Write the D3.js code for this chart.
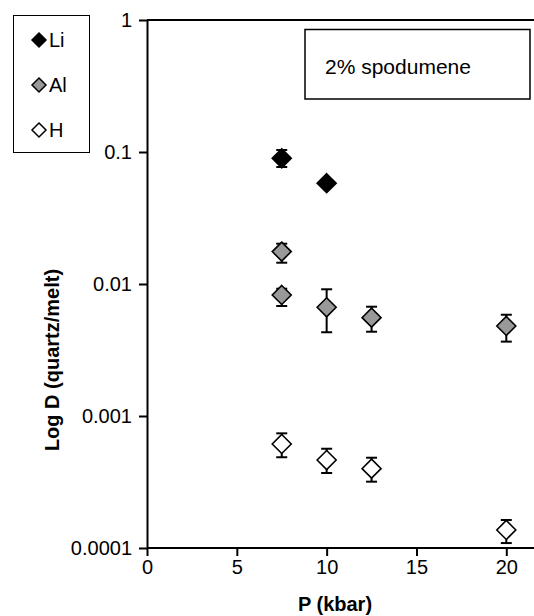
<!DOCTYPE html>
<html>
<head>
<meta charset="utf-8">
<script src="https://cdn.jsdelivr.net/npm/d3@7"></script>
<style>
  html, body { margin: 0; padding: 0; background: #fff; }
  svg { display: block; font-family: Arial, "Liberation Sans", Helvetica, sans-serif; }
</style>
</head>
<body>
<svg id="chart" width="534" height="616"></svg>
<script>
// Pressure (kbar) and partition coefficients D (quartz/melt) with error ranges
const liP    = [7.5, 10];
const liD    = [0.0895, 0.058];
const liLo   = [0.0770, null];
const liHi   = [0.1036, null];

const alP    = [7.5, 7.5, 10, 12.5, 20];
const alD    = [0.0176, 0.00826, 0.00666, 0.00556, 0.00481];
const alLo   = [0.0145, 0.00681, 0.00431, 0.00435, 0.00366];
const alHi   = [0.0202, 0.00921, 0.00912, 0.00673, 0.00585];

const hP     = [7.5, 10, 12.5, 20];
const hD     = [0.000614, 0.000464, 0.000399, 0.000137];
const hLo    = [0.000487, 0.000370, 0.000318, 0.000109];
const hHi    = [0.000739, 0.000565, 0.000483, 0.000163];

const xTicks = [0, 5, 10, 15, 20];
const yTicks = [0.0001, 0.001, 0.01, 0.1, 1];
const yTickLabels = ["0.0001", "0.001", "0.01", "0.1", "1"];

const seriesNames  = ["Li", "Al", "H"];
const seriesFills  = ["#000000", "#999999", "#ffffff"];

const series = [
  { name: seriesNames[0], fill: seriesFills[0], p: liP, d: liD, lo: liLo, hi: liHi },
  { name: seriesNames[1], fill: seriesFills[1], p: alP, d: alD, lo: alLo, hi: alHi },
  { name: seriesNames[2], fill: seriesFills[2], p: hP,  d: hD,  lo: hLo,  hi: hHi }
];

const svg = d3.select("#chart");
const plotLeft = 147, plotTop = 20, plotBottom = 548;

const x = d3.scaleLinear().domain([0, 22]).range([plotLeft, plotLeft + 22 * 17.965]);
const y = d3.scaleLog().domain([0.0001, 1]).range([plotBottom, plotTop]);

// Plot-area frame (top edge runs off the right side)
svg.append("line")
  .attr("x1", plotLeft).attr("x2", 534)
  .attr("y1", plotTop).attr("y2", plotTop)
  .attr("stroke", "#000").attr("stroke-width", 2);

// X axis
const xAxis = svg.append("g")
  .attr("transform", `translate(0,${plotBottom})`)
  .call(d3.axisBottom(x).tickValues(xTicks).tickSize(8).tickPadding(4).tickSizeOuter(0));
xAxis.select(".domain").attr("stroke-width", 2).attr("d", `M${plotLeft},0H534`);
xAxis.selectAll(".tick line").attr("stroke-width", 2);
xAxis.selectAll(".tick text").attr("font-size", 20).attr("fill", "#000")
  .attr("font-family", "Arial, 'Liberation Sans', sans-serif");

// Y axis
const yAxis = svg.append("g")
  .attr("transform", `translate(${plotLeft},0)`)
  .call(d3.axisLeft(y).tickValues(yTicks).tickFormat((d, i) => yTickLabels[i])
    .tickSize(8).tickPadding(7).tickSizeOuter(0));
yAxis.select(".domain").attr("stroke-width", 2);
yAxis.selectAll(".tick line").attr("stroke-width", 2);
yAxis.selectAll(".tick text").attr("font-size", 20).attr("fill", "#000")
  .attr("font-family", "Arial, 'Liberation Sans', sans-serif");

// Axis titles
svg.append("text")
  .attr("x", 335).attr("y", 611)
  .attr("text-anchor", "middle")
  .attr("font-size", 20).attr("font-weight", "bold")
  .text("P (kbar)");

svg.append("text")
  .attr("transform", "translate(58.5,360) rotate(-90)")
  .attr("text-anchor", "middle")
  .attr("font-size", 20).attr("font-weight", "bold")
  .text("Log D (quartz/melt)");

// Diamond marker path of half-diagonal r
const diamond = r => `M0,${-r}L${r},0L0,${r}L${-r},0Z`;

// Error bars and markers
const capW = 5.5;
series.forEach(s => {
  const g = svg.append("g");
  s.p.forEach((p, i) => {
    if (s.lo[i] != null) {
      const cx = x(p);
      const eg = g.append("g").attr("stroke", "#000").attr("stroke-width", 2);
      eg.append("line").attr("x1", cx).attr("x2", cx).attr("y1", y(s.hi[i])).attr("y2", y(s.lo[i]));
      eg.append("line").attr("x1", cx - capW).attr("x2", cx + capW).attr("y1", y(s.hi[i])).attr("y2", y(s.hi[i]));
      eg.append("line").attr("x1", cx - capW).attr("x2", cx + capW).attr("y1", y(s.lo[i])).attr("y2", y(s.lo[i]));
    }
  });
  s.p.forEach((p, i) => {
    g.append("path")
      .attr("d", diamond(9.5))
      .attr("transform", `translate(${x(p)},${y(s.d[i])})`)
      .attr("fill", s.fill)
      .attr("stroke", "#000").attr("stroke-width", 1.6);
  });
});

// Legend box
const lg = svg.append("g");
lg.append("rect")
  .attr("x", 13.5).attr("y", 15.5).attr("width", 76).attr("height", 137)
  .attr("fill", "#fff").attr("stroke", "#000").attr("stroke-width", 1);
series.forEach((s, i) => {
  const cy = 40 + i * 45;
  lg.append("path")
    .attr("d", diamond(7))
    .attr("transform", `translate(39,${cy})`)
    .attr("fill", s.fill).attr("stroke", "#000").attr("stroke-width", 1.5);
  lg.append("text")
    .attr("x", 49).attr("y", cy + 7)
    .attr("font-size", 20)
    .text(s.name);
});

// Annotation box
const ab = svg.append("g");
ab.append("rect")
  .attr("x", 305).attr("y", 29.5).attr("width", 225).attr("height", 69.5)
  .attr("fill", "#fff").attr("stroke", "#000").attr("stroke-width", 1.5);
ab.append("text")
  .attr("x", 325).attr("y", 74)
  .attr("font-size", 21)
  .text("2% spodumene");
</script>
</body>
</html>
